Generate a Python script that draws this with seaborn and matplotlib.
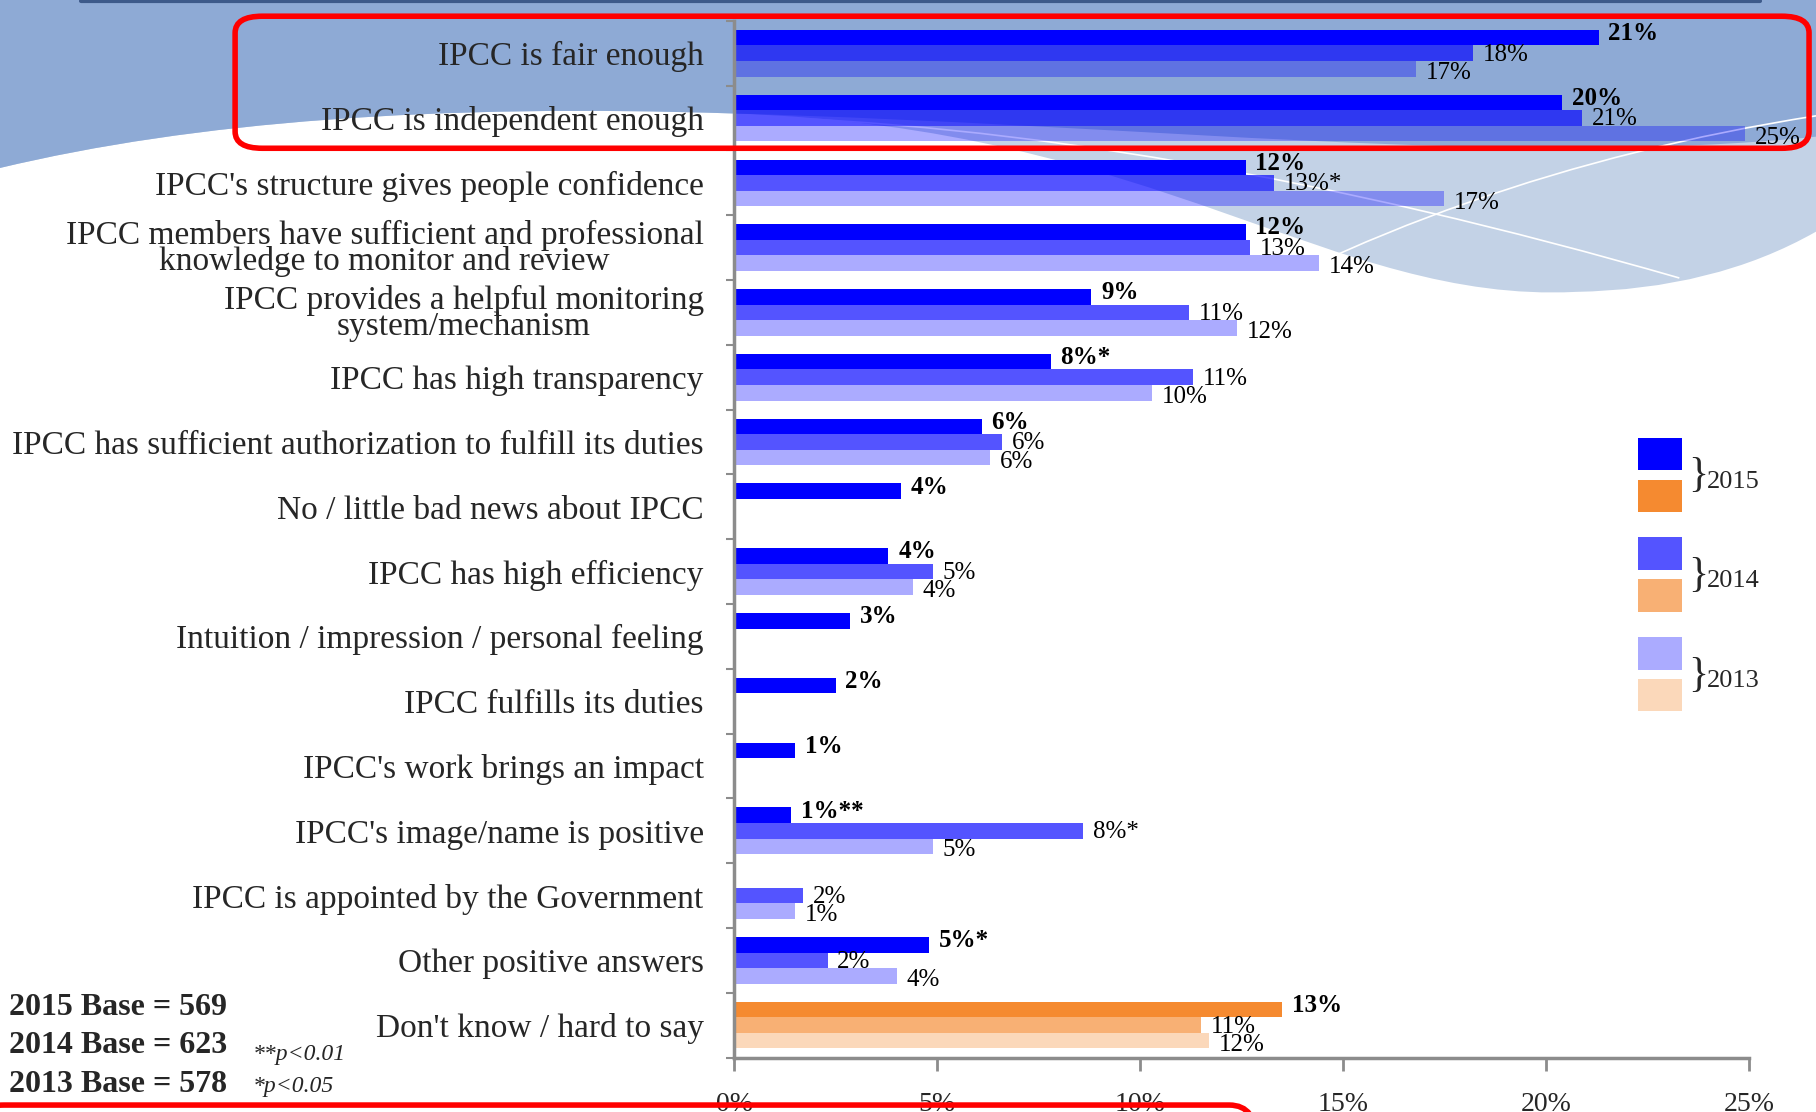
import numpy as np
import pandas as pd
import seaborn as sns
import matplotlib.pyplot as plt
from matplotlib.patches import PathPatch, FancyBboxPatch, Rectangle
from matplotlib.path import Path
from matplotlib.lines import Line2D
from matplotlib.colors import to_rgba

# Data
items = [
    "IPCC is fair enough",
    "IPCC is independent enough",
    "IPCC's structure gives people confidence",
    "IPCC members have sufficient and professional\nknowledge to monitor and review",
    "IPCC provides a helpful monitoring\nsystem/mechanism",
    "IPCC has high transparency",
    "IPCC has sufficient authorization to fulfill its duties",
    "No / little bad news about IPCC",
    "IPCC has high efficiency",
    "Intuition / impression / personal feeling",
    "IPCC fulfills its duties",
    "IPCC's work brings an impact",
    "IPCC's image/name is positive",
    "IPCC is appointed by the Government",
    "Other positive answers",
    "Don't know / hard to say",
]
nan = np.nan
v2015 = [21.3, 20.4, 12.6, 12.6, 8.8, 7.8, 6.1, 4.1, 3.8, 2.85, 2.5, 1.5, 1.4, nan, 4.8, 13.5]
v2014 = [18.2, 20.9, 13.3, 12.7, 11.2, 11.3, 6.6, nan, 4.9, nan, nan, nan, 8.6, 1.7, 2.3, 11.5]
v2013 = [16.8, 24.9, 17.5, 14.4, 12.4, 10.3, 6.3, nan, 4.4, nan, nan, nan, 4.9, 1.5, 4.0, 11.7]
lab2015 = ['21%', '20%', '12%', '12%', '9%', '8%*', '6%', '4%', '4%', '3%', '2%', '1%', '1%**', '', '5%*', '13%']
lab2014 = ['18%', '21%', '13%*', '13%', '11%', '11%', '6%', '', '5%', '', '', '', '8%*', '2%', '2%', '11%']
lab2013 = ['17%', '25%', '17%', '14%', '12%', '10%', '6%', '', '4%', '', '', '', '5%', '1%', '4%', '12%']
years = ['2015', '2014', '2013']
xticks = [0, 5, 10, 15, 20, 25]
bases = ['2015 Base = 569', '2014 Base = 623', '2013 Base = 578']
notes = ['**p<0.01', '*p<0.05']

df = pd.DataFrame({
    'item': items * 3,
    'year': [y for y in years for _ in items],
    'share': v2015 + v2014 + v2013,
})

sns.set_theme(style='white')
plt.rcParams['font.family'] = ['Liberation Serif', 'DejaVu Serif']

blue = '#0000FF'
orange = '#F58A30'
alphas = [1.0, 0.67, 0.33]
gray = '#8c8c8c'

fig = plt.figure(figsize=(18.16, 11.12), dpi=100)
fig.patch.set_facecolor('white')

W, H = 1568.0, 960.0


def fp(x, y):
    return (x / W, 1 - y / H)


# background waves
light = Path([fp(0, 145), fp(250, 85), fp(634, 98),
              fp(1000, 110), fp(1150, 262), fp(1360, 252),
              fp(1480, 250), fp(1568, 200),
              fp(1568, 0), fp(0, 0), fp(0, 145)],
             [Path.MOVETO, Path.CURVE3, Path.CURVE3,
              Path.CURVE4, Path.CURVE4, Path.CURVE4,
              Path.CURVE3, Path.CURVE3,
              Path.LINETO, Path.LINETO, Path.CLOSEPOLY])
fig.patches.append(PathPatch(light, transform=fig.transFigure, facecolor='#c3d2e6',
                             edgecolor='none', zorder=-3))
dark = Path([fp(0, 145), fp(250, 85), fp(634, 98),
             fp(1000, 108), fp(1300, 145), fp(1568, 118),
             fp(1568, 0), fp(0, 0), fp(0, 145)],
            [Path.MOVETO, Path.CURVE3, Path.CURVE3,
             Path.CURVE4, Path.CURVE4, Path.CURVE4,
             Path.LINETO, Path.LINETO, Path.CLOSEPOLY])
fig.patches.append(PathPatch(dark, transform=fig.transFigure, facecolor='#8eaad5',
                             edgecolor='none', zorder=-2))
wl1 = Path([fp(634, 100), fp(1000, 110), fp(1450, 240)],
           [Path.MOVETO, Path.CURVE3, Path.CURVE3])
fig.patches.append(PathPatch(wl1, transform=fig.transFigure, facecolor='none',
                             edgecolor='white', lw=1.2, zorder=-1))
wl2 = Path([fp(1000, 300), fp(1250, 150), fp(1568, 100)],
           [Path.MOVETO, Path.CURVE3, Path.CURVE3])
fig.patches.append(PathPatch(wl2, transform=fig.transFigure, facecolor='none',
                             edgecolor='white', lw=1.2, zorder=-1))
fig.add_artist(Line2D([70 / W, 1520 / W], [1 - 1 / H, 1 - 1 / H], transform=fig.transFigure,
                      color='#3d5a8a', lw=3))

ax = fig.add_axes([634 / W, 1 - 913 / H, (1510 - 634) / W, (913 - 18) / H])
ax.set_facecolor('none')

sns.barplot(data=df, y='item', x='share', hue='year', order=items, hue_order=years,
            orient='h', width=0.72, errorbar=None, palette=[blue, blue, blue],
            saturation=1, linewidth=0, legend=False, ax=ax)

labels = [lab2015, lab2014, lab2013]
for k, cont in enumerate(ax.containers):
    for p in cont.patches:
        w = p.get_width()
        if not np.isfinite(w) or w <= 0:
            continue
        yc = p.get_y() + p.get_height() / 2
        i = int(round(yc))
        base = orange if i == len(items) - 1 else blue
        p.set_facecolor(to_rgba(base, alphas[k]))
        txt = labels[k][i]
        if txt:
            dy = [3, -1, -3][k]
            ax.annotate(txt, xy=(w, yc), xytext=(7, dy), textcoords='offset points',
                        va='center', ha='left', fontsize=18,
                        fontweight='bold' if k == 0 else 'normal', color='black')

ax.set_xlim(0, 25)
ax.set_ylim(len(items) - 0.5, -0.5)
ax.set_xticks(xticks)
ax.set_xticklabels([f'{t}%' for t in xticks])
ax.set_xlabel('')
ax.set_ylabel('')
ax.set_yticks(range(len(items)))
ax.set_yticklabels(items)
for t in ax.get_yticklabels():
    t.set_multialignment('center')
    t.set_linespacing(0.8)
ax.set_yticks(np.arange(-0.5, len(items)), minor=True)
ax.tick_params(axis='y', which='major', length=0, pad=22, labelsize=24)
ax.tick_params(axis='y', which='minor', left=True, length=6, width=1.5, color=gray, direction='out')
ax.tick_params(axis='x', bottom=True, length=9, width=2, color=gray, direction='out',
               labelsize=20, pad=16)
for s in ['top', 'right']:
    ax.spines[s].set_visible(False)
for s in ['left', 'bottom']:
    ax.spines[s].set_color(gray)
    ax.spines[s].set_linewidth(2.5)

# legend
for k, y in enumerate(years):
    top = [378, 464, 550][k]
    fig.add_artist(Rectangle(fp(1414, top + 28), 38 / W, 28 / H, transform=fig.transFigure,
                             facecolor=to_rgba(blue, alphas[k]), edgecolor='none'))
    fig.add_artist(Rectangle(fp(1414, top + 64), 38 / W, 28 / H, transform=fig.transFigure,
                             facecolor=to_rgba(orange, alphas[k]), edgecolor='none'))
    fig.text(*fp(1458, top + 33), '}', fontsize=30, va='center', ha='left')
    fig.text(*fp(1474, top + 38), y, fontsize=19, va='center', ha='left')

# base notes
for k, b in enumerate(bases):
    fig.text(*fp(8, [870, 903, 936][k]), b, fontsize=23, fontweight='bold', va='center', ha='left')
for k, n in enumerate(notes):
    fig.text(*fp(218, [910, 938][k]), n, fontsize=17, style='italic', va='center', ha='left')

# red highlight boxes
fig.add_artist(FancyBboxPatch(fp(203, 128), (1562 - 203) / W, (128 - 14) / H,
                              boxstyle='round,pad=0,rounding_size=0.015',
                              transform=fig.transFigure, facecolor='none',
                              edgecolor='#ff0000', lw=4, zorder=5))
fig.add_artist(FancyBboxPatch(fp(-20, 1000), (1085 + 20) / W, (1000 - 954) / H,
                              boxstyle='round,pad=0,rounding_size=0.015',
                              transform=fig.transFigure, facecolor='none',
                              edgecolor='#ff0000', lw=4, zorder=5))

fig.savefig('out.png', dpi=100)
